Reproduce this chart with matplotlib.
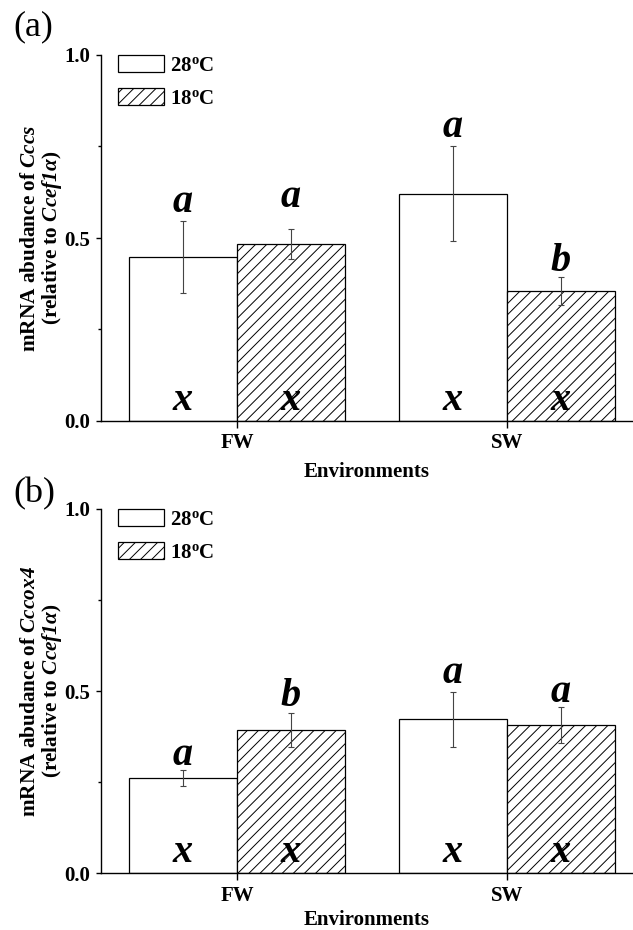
import matplotlib
matplotlib.use('Agg')
import matplotlib.pyplot as plt
from matplotlib.ticker import MultipleLocator

# Fontes estilo Times (Liberation Serif)
plt.rcParams['font.family'] = 'Liberation Serif'
plt.rcParams['mathtext.fontset'] = 'custom'
plt.rcParams['mathtext.rm'] = 'Liberation Serif:bold'
plt.rcParams['mathtext.bf'] = 'Liberation Serif:bold'
plt.rcParams['mathtext.it'] = 'Liberation Serif:italic:bold'
plt.rcParams['mathtext.bfit'] = 'Liberation Serif:italic:bold'
plt.rcParams['hatch.linewidth'] = 0.7

# Dados
environments = ['FW', 'SW']
temps = [r'28$^{\mathbf{o}}$C', r'18$^{\mathbf{o}}$C']

ccs_28 = [0.448, 0.621]
ccs_28_err = [0.099, 0.130]
ccs_18 = [0.484, 0.355]
ccs_18_err = [0.041, 0.039]
ccs_28_sig = ['a', 'a']
ccs_18_sig = ['a', 'b']
ccs_28_env = ['x', 'x']
ccs_18_env = ['x', 'x']

cox4_28 = [0.260, 0.422]
cox4_28_err = [0.022, 0.076]
cox4_18 = [0.393, 0.406]
cox4_18_err = [0.047, 0.049]
cox4_28_sig = ['a', 'a']
cox4_18_sig = ['b', 'a']
cox4_28_env = ['x', 'x']
cox4_18_env = ['x', 'x']

fig = plt.figure(figsize=(6.33, 9.30), dpi=100)

W = 633
H = 930
left = 101 / W
width = 1 - left


def painel(ax, m28, e28, m18, e18, sig28, sig18, env28, env18, gene, pad28, pad18, ylab_x):
    xs = range(len(environments))
    x28 = [x - 0.2 for x in xs]
    x18 = [x + 0.2 for x in xs]
    ax.bar(x28, m28, width=0.4, color='white', edgecolor='black', linewidth=0.9,
           label=temps[0], zorder=2)
    ax.bar(x18, m18, width=0.4, color='white', edgecolor='black', linewidth=0.9,
           hatch='///', label=temps[1], zorder=2)
    ax.errorbar(x28, m28, yerr=e28, fmt='none', ecolor='#444444', elinewidth=0.8,
                capsize=2.2, capthick=0.8, zorder=3)
    ax.errorbar(x18, m18, yerr=e18, fmt='none', ecolor='#444444', elinewidth=0.8,
                capsize=2.2, capthick=0.8, zorder=3)

    # letras de significância
    letra = dict(fontsize=29, fontweight='bold', fontstyle='italic', ha='center',
                 va='baseline', zorder=4)
    for i in range(len(environments)):
        ax.text(x28[i], m28[i] + e28[i] + pad28[i], sig28[i], **letra)
        ax.text(x18[i], m18[i] + e18[i] + pad18[i], sig18[i], **letra)
        ax.text(x28[i], 0.03, env28[i], **letra)
        ax.text(x18[i], 0.03, env18[i], **letra)

    ax.set_xlim(-0.504, 1.467)
    ax.set_ylim(0, 1.0)
    ax.set_xticks(list(xs))
    ax.set_xticklabels(environments, fontsize=15, fontweight='bold')
    ax.yaxis.set_major_locator(MultipleLocator(0.5))
    ax.yaxis.set_minor_locator(MultipleLocator(0.25))
    ax.set_yticks([0.0, 0.5, 1.0])
    ax.set_yticklabels(['0.0', '0.5', '1.0'], fontsize=15, fontweight='bold')
    ax.tick_params(axis='x', direction='out', length=5, width=1, pad=4)
    ax.tick_params(axis='y', which='major', direction='out', length=3.5, width=1, pad=4)
    ax.tick_params(axis='y', which='minor', direction='out', length=2, width=1)
    ax.spines['top'].set_visible(False)
    ax.spines['right'].set_visible(False)
    ax.spines['left'].set_linewidth(1)
    ax.spines['bottom'].set_linewidth(1)

    ax.set_xlabel('Environments', fontsize=15, fontweight='bold')
    ax.xaxis.set_label_coords(0.5, ylab_x)

    ax.legend(loc='upper left', bbox_to_anchor=(0.032, 1.0), frameon=False,
              prop={'size': 15, 'weight': 'bold'}, handlelength=2.2, handleheight=0.87,
              labelspacing=0.6, handletextpad=0.3, borderpad=0, borderaxespad=0)

    pos = ax.get_position()
    fig.text(42 / W, (pos.y0 + pos.y1) / 2,
             'mRNA abudance of $\\mathbfit{' + gene + '}$\n(relative to $\\mathbfit{Ccef1\\alpha}$)',
             rotation=90, ha='center', va='center', fontsize=15.3, fontweight='bold',
             linespacing=1.05, multialignment='center')


ax1 = fig.add_axes([left, 1 - 421 / H, width, 366 / H])
painel(ax1, ccs_28, ccs_28_err, ccs_18, ccs_18_err, ccs_28_sig, ccs_18_sig,
       ccs_28_env, ccs_18_env, 'Cccs', [0.023, 0.025], [0.059, 0.017], -0.112)

ax2 = fig.add_axes([left, 1 - 873 / H, width, 364 / H])
painel(ax2, cox4_28, cox4_28_err, cox4_18, cox4_18_err, cox4_28_sig, cox4_18_sig,
       cox4_28_env, cox4_18_env, 'Cccox4', [0.016, 0.023], [0.02, 0.016], -0.102)

fig.text(13 / W, 1 - 10 / H, '(a)', fontsize=26, fontweight='normal', va='top', ha='left')
fig.text(13 / W, 1 - 477 / H, '(b)', fontsize=26, fontweight='normal', va='top', ha='left')

fig.savefig('out.png', dpi=100)
